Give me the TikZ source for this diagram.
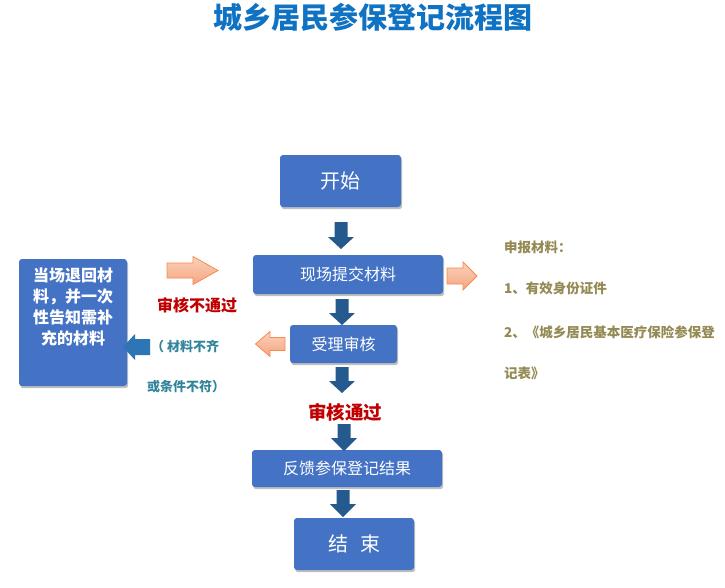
\documentclass[tikz,border=0pt]{standalone}
\usepackage{fontspec}
\setmainfont{Noto Sans CJK SC}
\usetikzlibrary{shadows}
\definecolor{boxblue}{HTML}{4472C4}
\definecolor{arrowblue}{HTML}{255A8E}
\definecolor{lightblue}{HTML}{2E75B6}
\definecolor{titleblue}{HTML}{0F72C2}
\definecolor{darkred}{HTML}{C00000}
\definecolor{tealtext}{HTML}{31849B}
\definecolor{olivetext}{HTML}{948A54}
\definecolor{orangeline}{HTML}{F58B4F}
\definecolor{orangelight}{HTML}{FAD2BC}
\definecolor{orangedark}{HTML}{F5A57F}
% horizontal block arrow: tail x, head-base x, tip x, centre y, shaft half, head half, style
\newcommand\hblockarrow[7]{\path[#7] (#1,{#4-#5}) -- (#2,{#4-#5}) -- (#2,{#4-#6}) -- (#3,#4) -- (#2,{#4+#6}) -- (#2,{#4+#5}) -- (#1,{#4+#5}) -- cycle;}
% vertical block arrow: tail y, head-base y, tip y, centre x, shaft half, head half, style
\newcommand\vblockarrow[7]{\path[#7] ({#4-#5},#1) -- ({#4-#5},#2) -- ({#4-#6},#2) -- (#4,#3) -- ({#4+#6},#2) -- ({#4+#5},#2) -- ({#4+#5},#1) -- cycle;}
\begin{document}
\begin{tikzpicture}[x=1pt,y=-1pt,
  box/.style={fill=boxblue, rounded corners=3pt, text=white, inner sep=0pt,
    drop shadow={shadow xshift=1.2pt, shadow yshift=-2.2pt, fill=black!55, opacity=0.45}},
  downarrow/.style={fill=arrowblue},
  orangearrow/.style={draw=orangeline, line width=0.8pt, top color=orangelight, bottom color=orangedark},
  bluearrow/.style={fill=lightblue},
  redlabel/.style={text=darkred, font=\bfseries, inner sep=0pt},
  teallabel/.style={text=tealtext, font=\fontsize{13}{15}\selectfont\bfseries, anchor=west, inner sep=0pt},
  olivelabel/.style={text=olivetext, font=\fontsize{13.5}{15}\selectfont\bfseries, anchor=west, inner sep=0pt}]
\useasboundingbox[fill=white] (0,0) rectangle (725,587);

\node[text=titleblue, font=\fontsize{29}{32}\selectfont\bfseries, inner sep=0pt] (title) at (373,17) {城乡居民参保登记流程图};

\node[box, minimum width=121pt, minimum height=52pt, font=\fontsize{20}{22}\selectfont] (start) at (340.5,181) {开始};
\node[box, minimum width=190pt, minimum height=39pt, font=\fontsize{16}{18}\selectfont] (submit) at (348,274.5) {现场提交材料};
\node[box, minimum width=107pt, minimum height=38pt, font=\fontsize{16}{18}\selectfont] (review) at (343.5,344) {受理审核};
\node[box, minimum width=190pt, minimum height=37pt, font=\fontsize{16}{18}\selectfont] (feedback) at (347,468.5) {反馈参保登记结果};
\node[box, minimum width=120pt, minimum height=52pt, font=\fontsize{20}{22}\selectfont] (finish) at (354,544) {结\hspace{0.6em}束};
\node[box, minimum width=108pt, minimum height=127pt, align=center,
  font=\fontsize{16}{21}\selectfont\bfseries] (back) at (73,322.5) {当场退回材\\料，并一次\\性告知需补\\充的材料\\[11pt]\mbox{}};

% down arrows
\vblockarrow{222}{237}{249}{341}{6.5}{13}{downarrow}
\vblockarrow{299}{313}{325}{342}{6.5}{13}{downarrow}
\vblockarrow{367}{381}{393}{342}{6.5}{13}{downarrow}
\vblockarrow{424}{438}{451}{344}{6.5}{13}{downarrow}
\vblockarrow{490}{504}{517}{343}{6.5}{13}{downarrow}

% orange arrows
\hblockarrow{167}{193}{218}{270.5}{7.5}{14}{orangearrow}
\hblockarrow{447}{463}{477}{276}{8}{14}{orangearrow}
\hblockarrow{285}{270}{255.5}{344}{6.5}{12.5}{orangearrow}

% blue arrow to the left box
\hblockarrow{150}{135}{123}{347}{8}{13}{bluearrow}

\node[redlabel, font=\fontsize{16}{18}\selectfont\bfseries] (fail) at (197,305) {审核不通过};
\node[redlabel, font=\fontsize{18.5}{20}\selectfont\bfseries] (pass) at (345,412) {审核通过};

\node[teallabel] (why1) at (151,347) {（ 材料不齐};
\node[teallabel] (why2) at (147,387) {或条件不符）};

\node[olivelabel] (m0) at (504,247) {申报材料：};
\node[olivelabel] (m1) at (504,288) {1、有效身份证件};
\node[olivelabel] (m2) at (504,332) {2、《城乡居民基本医疗保险参保登};
\node[olivelabel] (m3) at (504,373) {记表》};
\end{tikzpicture}
\end{document}
